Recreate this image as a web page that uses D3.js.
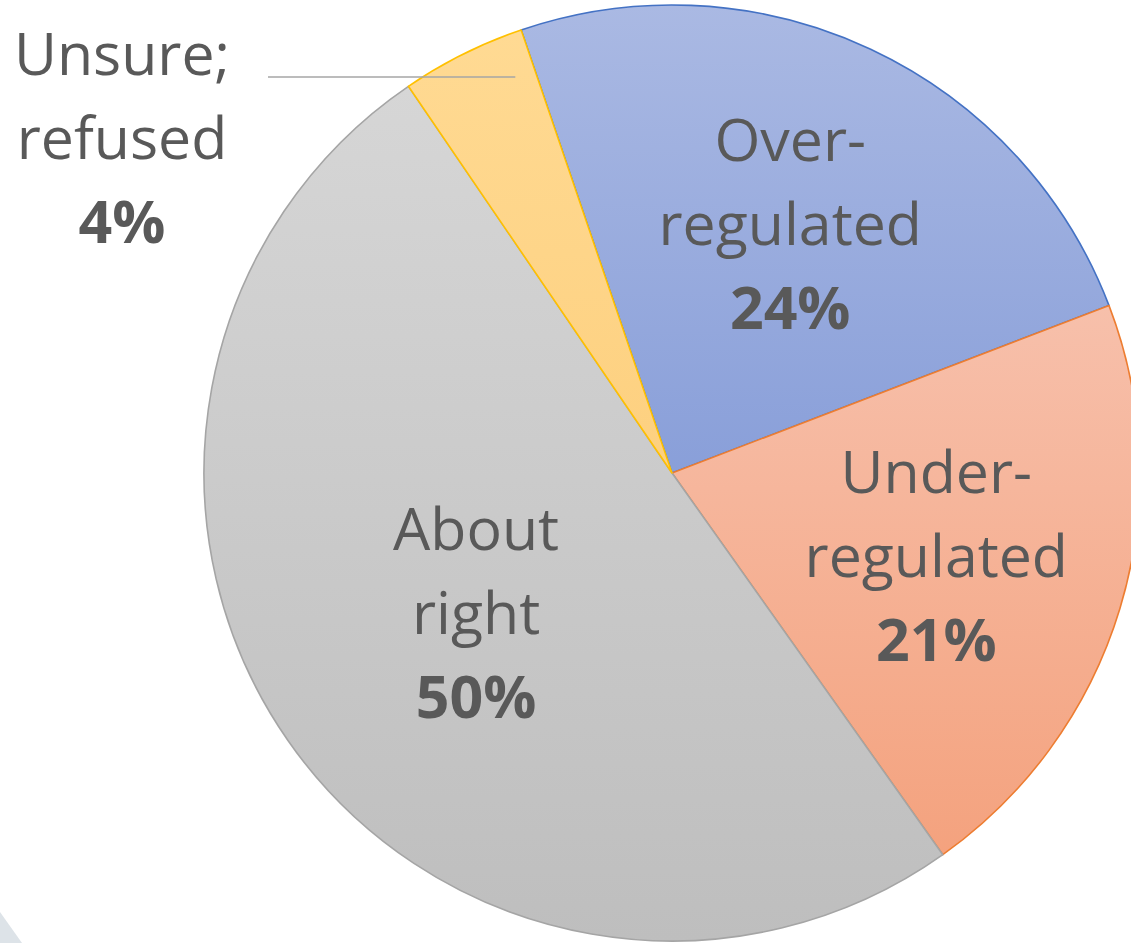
<!DOCTYPE html>
<html>
<head>
<meta charset="utf-8">
<script src="https://cdn.jsdelivr.net/npm/d3@7"></script>
<style>
  html, body { margin: 0; padding: 0; background: #fff; overflow: hidden; }
  svg { display: block; }
</style>
</head>
<body>
<svg id="chart" width="1131" height="943"></svg>
<script>
// data
const categories = ["Over-regulated", "Under-regulated", "About right", "Unsure; refused"];
const values = [24.4, 21.0, 50.3, 4.3];
const valueLabels = ["24%", "21%", "50%", "4%"];
const labelLines = [["Over-", "regulated"], ["Under-", "regulated"], ["About", "right"], ["Unsure;", "refused"]];

// styles
const gradTop = ["#aab9e3", "#f7c0ab", "#d6d6d6", "#ffda93"];
const gradBottom = ["#899fd9", "#f4a27e", "#bebebe", "#fdd07f"];
const strokes = ["#4472c4", "#ed7d31", "#a5a5a5", "#ffc000"];

const width = 1131, height = 943;
const cx = 672, cy = 473, radius = 468;
const startDeg = -18.8;
const fontSize = 59, lineGap = 84;

const svg = d3.select("#chart");
const defs = svg.append("defs");

// small decorative corner shape at bottom left
svg.append("path")
    .attr("d", "M0,912 L22,943 L0,943 Z")
    .attr("fill", "#dde3e8");

categories.forEach((c, i) => {
    const g = defs.append("linearGradient")
        .attr("id", "grad" + i)
        .attr("x1", 0).attr("y1", 0).attr("x2", 0).attr("y2", 1);
    g.append("stop").attr("offset", "0%").attr("stop-color", gradTop[i]);
    g.append("stop").attr("offset", "100%").attr("stop-color", gradBottom[i]);
});

const pie = d3.pie()
    .value(d => d)
    .sort(null)
    .startAngle(startDeg * Math.PI / 180)
    .endAngle((startDeg + 360) * Math.PI / 180);

const arcs = pie(values);

const arc = d3.arc().innerRadius(0).outerRadius(radius);

const root = svg.append("g").attr("transform", `translate(${cx},${cy})`);

root.selectAll("path.slice")
    .data(arcs)
    .join("path")
    .attr("class", "slice")
    .attr("d", arc)
    .attr("fill", (d, i) => `url(#grad${i})`)
    .attr("stroke", (d, i) => strokes[i])
    .attr("stroke-width", 1.6)
    .attr("stroke-linejoin", "round");

// label distance from centre, as a share of the radius
const labelRadius = [0.595, 0.59, 0.51];

function polar(angle, r) {
    return [Math.sin(angle) * r, -Math.cos(angle) * r];
}

const labels = svg.append("g")
    .attr("font-family", "'Open Sans', 'Noto Sans', sans-serif")
    .attr("font-size", fontSize)
    .attr("fill", "#595959")
    .attr("text-anchor", "middle");

arcs.forEach((d, i) => {
    const mid = (d.startAngle + d.endAngle) / 2;
    let x, y;
    if (i < 3) {
        const p = polar(mid, radius * labelRadius[i]);
        x = cx + p[0];
        y = cy + p[1] + 3;
    } else {
        // outside label with a leader line
        const a = mid + 0.32 * (d.endAngle - d.startAngle);
        const p = polar(a, radius * 0.91);
        const endX = cx + p[0], endY = cy + p[1];
        svg.append("line")
            .attr("x1", 268).attr("x2", endX)
            .attr("y1", endY).attr("y2", endY)
            .attr("stroke", "#a6a6a6")
            .attr("stroke-width", 1.3);
        x = 122;
        y = 138;
    }
    const t = labels.append("text").attr("x", x);
    const lines = labelLines[i].concat([valueLabels[i]]);
    const first = y - lineGap + fontSize * 0.36;
    lines.forEach((s, k) => {
        t.append("tspan")
            .attr("x", x)
            .attr("y", first + k * lineGap)
            .attr("font-weight", k === 2 ? "bold" : "normal")
            .text(s);
    });
});
</script>
</body>
</html>
